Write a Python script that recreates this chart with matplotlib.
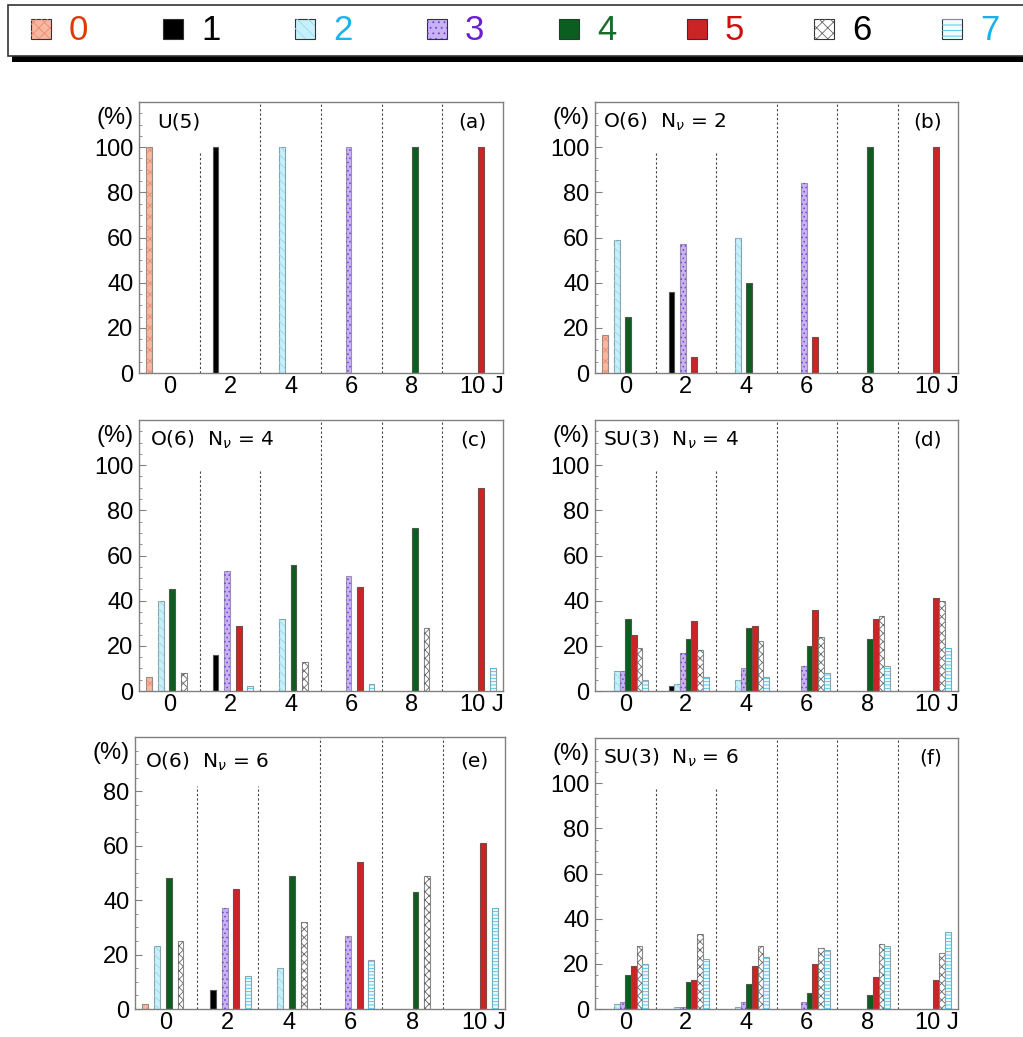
import matplotlib.pyplot as plt
from matplotlib.patches import Rectangle

plt.rcParams['font.family'] = ['Liberation Sans', 'DejaVu Sans']
plt.rcParams['mathtext.fontset'] = 'dejavusans'
plt.rcParams['hatch.linewidth'] = 0.6

W, H = 1023, 1037

J = [0, 2, 4, 6, 8, 10]
cats = ['0', '1', '2', '3', '4', '5', '6', '7']

# rows = category 0..7, columns = J 0..10  (percent)
a_vals = [
    [100, 0, 0, 0, 0, 0],
    [0, 100, 0, 0, 0, 0],
    [0, 0, 100, 0, 0, 0],
    [0, 0, 0, 100, 0, 0],
    [0, 0, 0, 0, 100, 0],
    [0, 0, 0, 0, 0, 100],
    [0, 0, 0, 0, 0, 0],
    [0, 0, 0, 0, 0, 0],
]
b_vals = [
    [17, 0, 0, 0, 0, 0],
    [0, 36, 0, 0, 0, 0],
    [59, 0, 60, 0, 0, 0],
    [0, 57, 0, 84, 0, 0],
    [25, 0, 40, 0, 100, 0],
    [0, 7, 0, 16, 0, 100],
    [0, 0, 0, 0, 0, 0],
    [0, 0, 0, 0, 0, 0],
]
c_vals = [
    [6, 0, 0, 0, 0, 0],
    [0, 16, 0, 0, 0, 0],
    [40, 0, 32, 0, 0, 0],
    [0, 53, 0, 51, 0, 0],
    [45, 0, 56, 0, 72, 0],
    [0, 29, 0, 46, 0, 90],
    [8, 0, 13, 0, 28, 0],
    [0, 2, 0, 3, 0, 10],
]
d_vals = [
    [0, 0, 0, 0, 0, 0],
    [0, 2, 0, 0, 0, 0],
    [9, 3, 5, 0, 0, 0],
    [9, 17, 10, 11, 0, 0],
    [32, 23, 28, 20, 23, 0],
    [25, 31, 29, 36, 32, 41],
    [19, 18, 22, 24, 33, 40],
    [5, 6, 6, 8, 11, 19],
]
e_vals = [
    [2, 0, 0, 0, 0, 0],
    [0, 7, 0, 0, 0, 0],
    [23, 0, 15, 0, 0, 0],
    [0, 37, 0, 27, 0, 0],
    [48, 0, 49, 0, 43, 0],
    [0, 44, 0, 54, 0, 61],
    [25, 0, 32, 0, 49, 0],
    [0, 12, 0, 18, 0, 37],
]
f_vals = [
    [0, 0, 0, 0, 0, 0],
    [0, 0, 0, 0, 0, 0],
    [2, 1, 1, 0, 0, 0],
    [3, 1, 3, 3, 0, 0],
    [15, 12, 11, 7, 6, 0],
    [19, 13, 19, 20, 14, 13],
    [28, 33, 28, 27, 29, 25],
    [20, 22, 23, 26, 28, 34],
]

# per-category styling
face = ['#f6b8a2', 'black', '#c8f0fa', '#c8b2f6', '#0b5e1f', '#cc2424', 'white', '#f2fbfe']
edge = ['#9a8a86', '#555555', '#8aa4ac', '#9a90b0', '#4a5a4a', '#7a4a4a', '#888888', '#8aa4ac']
hatch = ['xxx', None, '\\\\\\\\', '....', None, None, 'xxxx', '-----']
hatch_col = ['#f08a68', None, '#8edcf4', '#7a3ce0', None, None, '#666666', '#3cc0ee']
label_col = ['#dd3a0a', 'black', '#19b4ec', '#6a1fd0', '#1a6a2a', '#cc1010', 'black', '#19b0ea']

bw = 0.19

panels = [
    # vals, left, top, right, bottom (px), ymax, text, tag, text x, text y, short separators
    (a_vals, 139, 102, 503, 373, 120, 'U(5)', '(a)', 0.05, 0.925, {1: 98}),
    (b_vals, 595, 102, 958, 373, 120, r'O(6)  N$_{\nu}$ = 2', '(b)', 0.022, 0.925, {1: 98, 3: 98}),
    (c_vals, 139, 420, 503, 691, 120, r'O(6)  N$_{\nu}$ = 4', '(c)', 0.03, 0.925, {1: 98, 3: 98}),
    (d_vals, 595, 420, 958, 691, 120, r'SU(3)  N$_{\nu}$ = 4', '(d)', 0.022, 0.925, {1: 98, 3: 98}),
    (e_vals, 135, 737, 505, 1009, 100, r'O(6)  N$_{\nu}$ = 6', '(e)', 0.027, 0.91, {1: 82, 3: 82}),
    (f_vals, 595, 738, 958, 1009, 120, r'SU(3)  N$_{\nu}$ = 6', '(f)', 0.022, 0.925, {1: 98, 3: 98}),
]

fig = plt.figure(figsize=(W / 100, H / 100), dpi=100)


def draw_bars(ax, vals):
    for k, row in enumerate(vals):
        x = [j + (k - 3.5) * bw for j, v in zip(J, row) if v > 0]
        h = [v for v in row if v > 0]
        if not h:
            continue
        ax.bar(x, h, width=bw, color=face[k], edgecolor=edge[k], linewidth=0.8, zorder=2)
        if hatch[k]:
            ax.bar(x, h, width=bw, color='none', edgecolor=hatch_col[k],
                   hatch=hatch[k], linewidth=0, zorder=3)


for vals, l, t, r, b, ymax, txt, tag, tx, ty, short in panels:
    ax = fig.add_axes([l / W, 1 - b / H, (r - l) / W, (b - t) / H])
    draw_bars(ax, vals)
    ax.set_xlim(-1, 11)
    ax.set_ylim(0, ymax)
    for s in [1, 3, 5, 7, 9]:
        ax.vlines(s, 0, short.get(s, ymax), colors='#444444', linewidth=0.8,
                  linestyles=(0, (2, 2)), zorder=1)
    for sp in ax.spines.values():
        sp.set_color('#808080')
        sp.set_linewidth(1)
    ax.set_yticks(range(0, ymax - 19, 20) if ymax == 100 else range(0, 101, 20))
    ax.set_yticks(range(0, ymax + 1, 5), minor=True)
    ax.tick_params(axis='y', which='major', direction='in', length=5, color='#808080',
                   labelsize=17, pad=4)
    ax.tick_params(axis='y', which='minor', direction='in', length=2.5, color='#808080')
    ax.set_xticks(J)
    ax.set_xticklabels([str(j) for j in J])
    ax.tick_params(axis='x', length=0, labelsize=17, pad=2)
    ax.text(10.82, -0.011, 'J', transform=ax.get_xaxis_transform(), ha='center', va='top',
            fontsize=17)
    ax.text(-0.014, 0.94, '(%)', transform=ax.transAxes, ha='right', va='center', fontsize=17)
    ax.text(tx, ty, txt, transform=ax.transAxes, ha='left', va='center', fontsize=14.5,
            family='DejaVu Sans')
    ax.text(0.955, ty, tag, transform=ax.transAxes, ha='right', va='center', fontsize=14.5,
            family='DejaVu Sans')

# legend box with drop shadow across the top
def px_rect(x0, y0, x1, y1, **kw):
    return Rectangle((x0 / W, 1 - y1 / H), (x1 - x0) / W, (y1 - y0) / H,
                     transform=fig.transFigure, **kw)


fig.add_artist(px_rect(12, 10, 1040, 62, facecolor='black', edgecolor='none'))
fig.add_artist(px_rect(8, 5, 1040, 56, facecolor='white', edgecolor='#333333', linewidth=1.2))

leg_x = [31, 163, 295, 427, 559, 687, 814, 942]
for k, c in enumerate(cats):
    x0 = leg_x[k]
    fig.add_artist(px_rect(x0, 19, x0 + 20, 39, facecolor=face[k], edgecolor='#333333',
                           linewidth=0.8))
    if hatch[k]:
        fig.add_artist(px_rect(x0, 19, x0 + 20, 39, facecolor='none', edgecolor=hatch_col[k],
                               hatch=hatch[k][:3], linewidth=0))
    fig.text((x0 + 38) / W, 1 - 31 / H, c, color=label_col[k], fontsize=25,
             ha='left', va='center')

fig.savefig('out.png', dpi=100)
